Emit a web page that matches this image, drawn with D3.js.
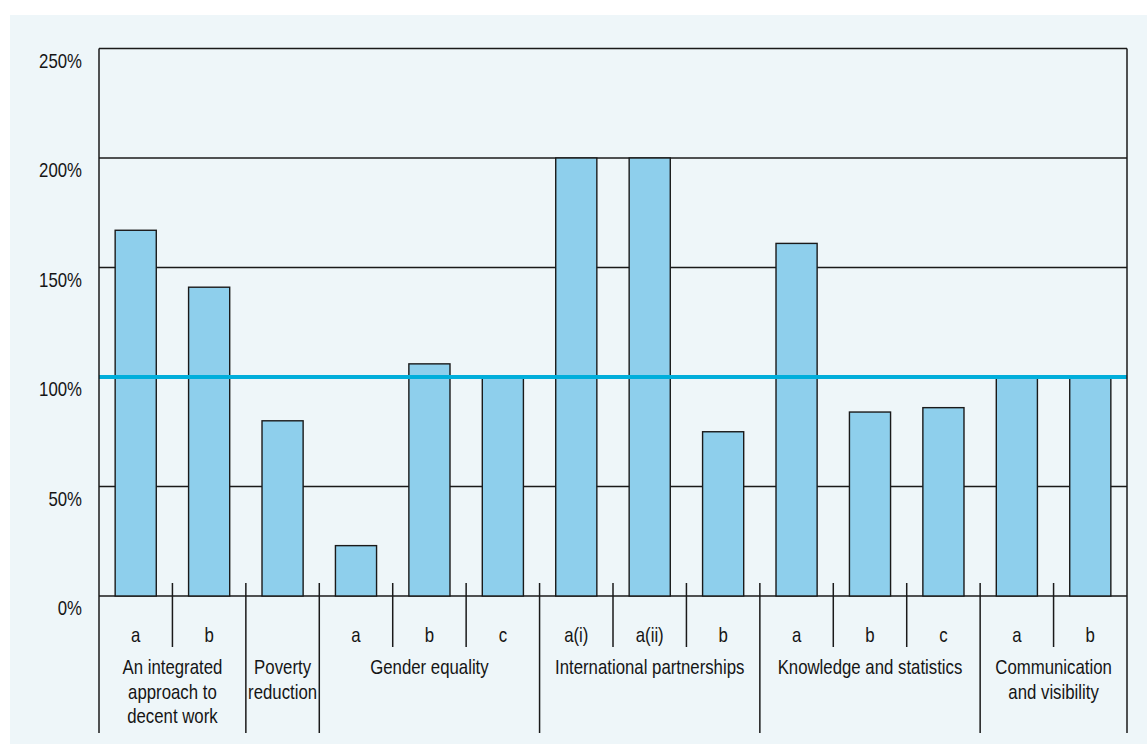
<!DOCTYPE html>
<html>
<head>
<meta charset="utf-8">
<script src="https://cdn.jsdelivr.net/npm/d3@7"></script>
<style>
  body { margin: 0; background: #fff; }
  text { font-family: "Liberation Sans", Arial, sans-serif; fill: #151515; }
</style>
</head>
<body>
<div class="viewport"></div>
<script>
const subLabels = ["a", "b", "", "a", "b", "c", "a(i)", "a(ii)", "b", "a", "b", "c", "a", "b"];
const barGroup = [0, 0, 1, 2, 2, 2, 3, 3, 3, 4, 4, 4, 5, 5];
const values = [167, 141, 80, 23, 106, 100, 200, 200, 75, 161, 84, 86, 100, 100];
const groupLabels = [
  ["An integrated", "approach to", "decent work"],
  ["Poverty", "reduction"],
  ["Gender equality"],
  ["International partnerships"],
  ["Knowledge and statistics"],
  ["Communication", "and visibility"]
];
const yTicks = [0, 50, 100, 150, 200, 250];
const target = 100;

const W = 1147, H = 747;
const plotLeft = 99, plotRight = 1127, plotTop = 48.5, zeroY = 596;
const sepTop = 583, subBottom = 647, groupBottom = 733;
const fontSize = 20, narrow = 0.84; // condensed look

const svg = d3.select(".viewport")
  .append("svg")
  .attr("width", W)
  .attr("height", H);

// squeezed text helper
const label = (parent, tx, ty, str, anchor) => {
  parent.append("g")
    .attr("transform", "translate(" + tx + "," + ty + ") scale(" + narrow + ",1)")
    .append("text")
    .attr("text-anchor", anchor)
    .attr("font-size", fontSize)
    .text(str);
};

// panel background
svg.append("rect")
  .attr("x", 10).attr("y", 15)
  .attr("width", W - 10).attr("height", 729)
  .attr("fill", "#eef6f9");

const x = d3.scaleBand()
  .domain(d3.range(values.length))
  .range([plotLeft, plotRight])
  .paddingInner(0.44)
  .paddingOuter(0.22);

const y = d3.scaleLinear().domain([0, 250]).range([zeroY, plotTop]);

// gridlines
svg.append("g")
  .selectAll("line")
  .data(yTicks)
  .enter()
  .append("line")
  .attr("x1", plotLeft).attr("x2", plotRight)
  .attr("y1", d => y(d)).attr("y2", d => y(d))
  .attr("stroke", "#1a1a1a")
  .attr("stroke-width", 1.4);

// y tick labels
const yl = svg.append("g");
yTicks.forEach(t => label(yl, 82, y(t) + 19, t + "%", "end"));

// bars
svg.append("g")
  .selectAll("rect")
  .data(values)
  .enter()
  .append("rect")
  .attr("x", (d, i) => x(i))
  .attr("width", x.bandwidth())
  .attr("y", d => y(d))
  .attr("height", d => zeroY - y(d))
  .attr("fill", "#8ecfec")
  .attr("stroke", "#1a1a1a")
  .attr("stroke-width", 1.4);

// target line
svg.append("line")
  .attr("x1", plotLeft).attr("x2", plotRight)
  .attr("y1", y(target)).attr("y2", y(target))
  .attr("stroke", "#00aedb")
  .attr("stroke-width", 4);

// outer frame verticals
svg.append("g")
  .selectAll("line")
  .data([plotLeft, plotRight])
  .enter()
  .append("line")
  .attr("x1", d => d).attr("x2", d => d)
  .attr("y1", plotTop).attr("y2", groupBottom)
  .attr("stroke", "#1a1a1a")
  .attr("stroke-width", 1.5);

// separators between slots
const step = x.step();
const seps = d3.range(1, values.length).map(i => ({
  x: plotLeft + i * step,
  group: barGroup[i] !== barGroup[i - 1]
}));
svg.append("g")
  .selectAll("line")
  .data(seps)
  .enter()
  .append("line")
  .attr("x1", d => d.x).attr("x2", d => d.x)
  .attr("y1", sepTop)
  .attr("y2", d => d.group ? groupBottom : subBottom)
  .attr("stroke", "#1a1a1a")
  .attr("stroke-width", 1.5);

// sub labels
const sl = svg.append("g");
subLabels.forEach((s, i) => {
  if (s) label(sl, x(i) + x.bandwidth() / 2, 642, s, "middle");
});

// group labels
const gl = svg.append("g");
groupLabels.forEach((lines, gi) => {
  const idx = d3.range(values.length).filter(i => barGroup[i] === gi);
  const cx = plotLeft + (idx[0] + idx[idx.length - 1] + 1) * step / 2;
  lines.forEach((ln, li) => label(gl, cx, 674 + li * 24.5, ln, "middle"));
});
</script>
</body>
</html>
